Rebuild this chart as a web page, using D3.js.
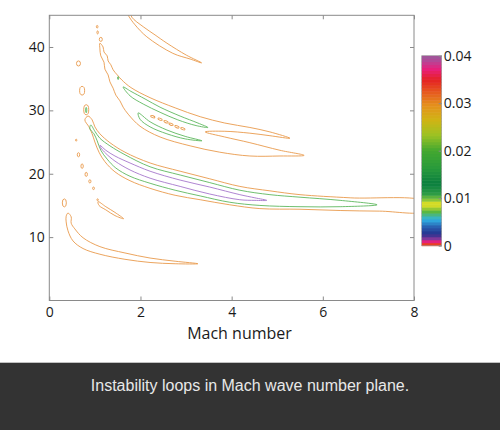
<!DOCTYPE html>
<html>
<head>
<meta charset="utf-8">
<script src="https://cdn.jsdelivr.net/npm/d3@7"></script>
<style>
body { margin: 0; background: #fff; }
svg { display: block; }
</style>
</head>
<body>
<svg id="drawing_region"></svg>
<script>
// tick labels
const machTicks = [0, 2, 4, 6, 8];
const waveTicks = [10, 20, 30, 40];
const cbarTicks = [0, 0.01, 0.02, 0.03, 0.04];

const cmapValues = [0, 0.0004, 0.001, 0.0016, 0.0025, 0.004, 0.0056, 0.0072, 0.0088, 0.0098, 0.011,
    0.0131, 0.0163, 0.0201, 0.0233, 0.0265, 0.0296, 0.0328, 0.0349, 0.0373, 0.0391, 0.04];
const cmapColors = ['#f08a2a', '#e82a20', '#e0208a', '#7a3a9a', '#24318e', '#2a5fb0', '#30b4e6', '#5ab840',
    '#f2e41e', '#7ec23c', '#2a9a44', '#0a7e3e', '#289a3c', '#44a830', '#9cc224', '#d0b414', '#e4901c',
    '#e6501e', '#e42222', '#e8207e', '#b04a98', '#9a5a9a'];

// contour loops, [Mach number, wave number]
const topLoop = [[1.77,45.6],[1.81,44.7],[2.06,43.2],[2.32,41.9],[2.58,40.6],[3.01,38.7],[3.34,37.5],
    [3.09,38.1],[2.71,39.0],[2.14,41.6],[1.88,43.5],[1.74,44.9],[1.70,45.6]];

const upperOuter = [[1.11,40.6],[1.18,40.0],[1.20,39.2],[1.27,38.6],[1.29,37.8],[1.35,37.2],[1.40,36.4],
    [1.49,35.6],[1.59,34.8],[1.79,33.6],[2.21,32.0],[2.76,30.4],[3.31,29.0],[3.85,28.0],[4.40,27.3],
    [4.84,26.6],[5.28,25.6],[4.84,26.0],[4.40,26.4],[3.85,26.7],[3.42,26.6],[3.85,25.8],[4.40,24.9],
    [5.06,23.7],[5.59,22.9],[5.06,22.8],[4.40,22.8],[3.74,23.4],[3.09,24.4],[2.43,25.8],[1.99,27.5],
    [1.73,29.4],[1.62,30.5],[1.55,31.5],[1.46,32.4],[1.40,33.5],[1.33,34.5],[1.29,35.6],[1.22,36.5],
    [1.20,37.6],[1.13,38.6],[1.11,39.7]];
const upperGreen1 = [[1.62,33.7],[1.79,33.0],[2.10,31.8],[2.43,30.5],[2.87,29.1],[3.26,28.0],[3.48,27.3],
    [3.22,27.6],[2.82,28.5],[2.43,29.7],[2.06,31.0],[1.77,32.3]];
const upperGreen2 = [[1.95,29.6],[2.21,28.2],[2.58,26.9],[2.98,25.9],[3.35,25.2],[2.98,25.5],[2.58,26.3],
    [2.21,27.4],[1.99,28.6]];

const midOuter = [[0.85,29.1],[0.94,28.5],[1.00,27.4],[1.11,26.3],[1.33,24.9],[1.66,23.4],[2.21,21.7],
    [2.87,20.4],[3.52,19.2],[4.18,18.0],[4.84,17.3],[5.50,16.7],[6.60,16.2],[8.24,15.6],[8.24,14.1],
    [7.25,14.1],[6.38,14.2],[5.50,14.4],[4.62,14.5],[3.96,15.1],[3.31,15.9],[2.76,16.6],[2.21,17.7],
    [1.77,18.9],[1.44,20.3],[1.22,21.9],[1.09,23.4],[1.00,25.0],[0.94,26.3],[0.87,27.4],[0.78,28.5]];
const midGreen = [[0.91,27.7],[1.00,26.7],[1.11,25.6],[1.33,24.4],[1.66,23.0],[2.21,21.1],[2.87,19.8],
    [3.52,18.6],[4.18,17.4],[4.84,16.7],[5.50,16.3],[6.38,15.8],[7.19,15.1],[6.38,14.8],[5.50,14.8],
    [4.62,15.0],[3.96,15.5],[3.31,16.5],[2.76,17.4],[2.21,18.5],[1.77,19.6],[1.46,20.9],[1.27,22.3],
    [1.13,23.7],[1.05,25.2],[0.98,26.3],[0.89,27.1]];
const midPurple = [[1.11,24.5],[1.24,23.7],[1.44,22.8],[1.77,21.7],[2.21,20.4],[2.87,19.0],[3.52,17.9],
    [4.18,16.7],[4.51,16.2],[4.77,15.8],[4.51,15.8],[4.18,15.9],[3.52,16.8],[2.87,18.0],[2.21,19.3],
    [1.77,20.6],[1.44,22.0],[1.24,23.2],[1.13,24.1]];

const slantLoop = [[1.07,15.6],[1.24,14.8],[1.44,13.9],[1.63,12.9],[1.44,13.4],[1.24,14.3],[1.09,15.0]];
const lowerLoop = [[0.41,13.8],[0.48,13.2],[0.48,12.2],[0.56,11.3],[0.74,9.9],[1.11,8.5],[1.66,7.5],
    [2.21,6.7],[2.76,6.2],[3.26,5.8],[2.76,5.8],[2.21,6.0],[1.66,6.5],[1.11,7.3],[0.74,8.2],[0.52,9.4],
    [0.41,11.0],[0.37,12.4],[0.37,13.3]];

// small closed contours: [Mach, wave number, half width (Mach), half height (wave number)]
const ovalsOrange = [[1.05,43.2,0.018,0.2],[1.06,42.3,0.016,0.24],[1.13,41.2,0.033,0.32],
    [0.64,37.4,0.044,0.4],[0.72,33.1,0.055,0.68],[0.81,30.1,0.055,0.79],[0.59,25.3,0.015,0.15],
    [0.64,23.0,0.026,0.32],[0.72,21.2,0.026,0.35],[0.81,19.9,0.026,0.32],[0.89,18.8,0.024,0.25],
    [0.97,17.7,0.02,0.2],[1.06,15.9,0.015,0.15],[0.33,15.4,0.044,0.63]];
const ovalsGreen = [[0.81,30.05,0.013,0.42],[1.51,35.1,0.012,0.25]];
const islands = [[2.27,29.0,0.05,0.16],[2.43,28.6,0.05,0.16],[2.56,28.2,0.05,0.16],
    [2.67,27.8,0.05,0.16],[2.80,27.4,0.05,0.16],[2.93,27.1,0.05,0.16]];


class ContourPlot {

    constructor( config ) {
        this.config = config;
        this.init();
    }

    init() {
        let self = this;
        let c = self.config;

        self.svg = d3.select( c.parent )
            .attr('width', c.width)
            .attr('height', c.height);

        self.inner_width = c.plotRight - c.margin.left;
        self.inner_height = c.plotBottom - c.margin.top;

        self.chart = self.svg.append('g')
            .attr('transform', `translate(${c.margin.left}, ${c.margin.top})`);

        self.xscale = d3.scaleLinear()
            .domain([0, 8])
            .range([0, self.inner_width]);
        self.yscale = d3.scaleLinear()
            .domain([0, 45])
            .range([self.inner_height, 0]);

        self.svg.append('clipPath').attr('id', 'plotclip')
            .append('rect')
            .attr('width', self.inner_width)
            .attr('height', self.inner_height);

        self.marks = self.chart.append('g').attr('clip-path', 'url(#plotclip)');
    }

    render() {
        let self = this;
        let c = self.config;
        const x = self.xscale, y = self.yscale;

        const line = d3.line()
            .x(d => x(d[0]))
            .y(d => y(d[1]))
            .curve(d3.curveCatmullRomClosed.alpha(0.5));

        const loops = [
            { pts: topLoop, col: c.orange },
            { pts: upperOuter, col: c.orange },
            { pts: upperGreen1, col: c.green },
            { pts: upperGreen2, col: c.green },
            { pts: midOuter, col: c.orange },
            { pts: midGreen, col: c.green },
            { pts: midPurple, col: c.purple },
            { pts: slantLoop, col: c.orange },
            { pts: lowerLoop, col: c.orange }
        ];

        self.marks.selectAll('path.loop')
            .data(loops)
            .join('path')
            .attr('class', 'loop')
            .attr('d', d => line(d.pts))
            .attr('fill', 'none')
            .attr('stroke', d => d.col)
            .attr('stroke-width', 0.9);

        const ovals = ovalsOrange.map(d => ({ d: d, col: c.orange, rot: 0 }))
            .concat(ovalsGreen.map(d => ({ d: d, col: c.green, rot: 0 })))
            .concat(islands.map(d => ({ d: d, col: c.orange, rot: 22 })));

        self.marks.selectAll('ellipse')
            .data(ovals)
            .join('ellipse')
            .attr('cx', o => x(o.d[0]))
            .attr('cy', o => y(o.d[1]))
            .attr('rx', o => x(o.d[0] + o.d[2]) - x(o.d[0]))
            .attr('ry', o => y(o.d[1] - o.d[3]) - y(o.d[1]))
            .attr('transform', o => `rotate(${o.rot}, ${x(o.d[0])}, ${y(o.d[1])})`)
            .attr('fill', 'none')
            .attr('stroke', o => o.col)
            .attr('stroke-width', 0.9);

        // frame
        self.chart.append('rect')
            .attr('width', self.inner_width)
            .attr('height', self.inner_height)
            .attr('fill', 'none')
            .attr('stroke', '#8a8a8a')
            .attr('stroke-width', 1);

        const styleAxis = g => {
            g.select('.domain').remove();
            g.selectAll('line').attr('stroke', '#8a8a8a');
            g.selectAll('text')
                .attr('fill', '#1a1a1a')
                .style('font-family', '"Open Sans", sans-serif')
                .style('font-size', '14px');
        };

        self.chart.append('g')
            .attr('transform', `translate(0, ${self.inner_height})`)
            .call(d3.axisBottom(x).tickValues(machTicks).tickSize(-4).tickPadding(7))
            .call(styleAxis);
        self.chart.append('g')
            .call(d3.axisTop(x).tickValues(machTicks).tickSize(-4).tickFormat(''))
            .call(styleAxis);
        self.chart.append('g')
            .call(d3.axisLeft(y).tickValues(waveTicks).tickSize(-4).tickPadding(4.5))
            .call(styleAxis);
        self.chart.append('g')
            .attr('transform', `translate(${self.inner_width}, 0)`)
            .call(d3.axisRight(y).tickValues(waveTicks).tickSize(-4).tickFormat(''))
            .call(styleAxis);

        self.svg.append('text')
            .attr('x', 239.5)
            .attr('y', 339)
            .attr('text-anchor', 'middle')
            .attr('fill', '#1a1a1a')
            .style('font-family', '"Open Sans", sans-serif')
            .style('font-size', '16px')
            .text('Mach number');

        // colour bar
        const cb = c.cbar;
        const cscale = d3.scaleLinear().domain([0, 0.04]).range([cb.h, 0]);
        const cmap = d3.scaleLinear().domain(cmapValues).range(cmapColors);
        const bands = d3.range(64);
        const step = 0.04 / bands.length;
        const cbg = self.svg.append('g')
            .attr('transform', `translate(${cb.x}, ${cb.y})`);
        cbg.selectAll('rect.band')
            .data(bands)
            .join('rect')
            .attr('class', 'band')
            .attr('x', 0)
            .attr('width', cb.w)
            .attr('y', i => cscale((i + 1) * step))
            .attr('height', i => cscale(i * step) - cscale((i + 1) * step) + 0.5)
            .attr('fill', i => cmap((i + 0.5) * step));
        cbg.append('rect')
            .attr('width', cb.w)
            .attr('height', cb.h)
            .attr('fill', 'none')
            .attr('stroke', '#9a9a9a')
            .attr('stroke-width', 0.6);
        cbg.append('g')
            .attr('transform', `translate(${cb.w}, 0)`)
            .call(d3.axisRight(cscale).tickValues(cbarTicks).tickSize(-3).tickPadding(2)
                .tickFormat(d => d === 0 ? '0' : d.toFixed(2)))
            .call(styleAxis);

        // caption band
        self.svg.append('rect')
            .attr('x', 0)
            .attr('y', c.captionTop)
            .attr('width', c.width)
            .attr('height', c.height - c.captionTop)
            .attr('fill', '#333333');
        self.svg.append('text')
            .attr('x', c.width / 2)
            .attr('y', 391)
            .attr('text-anchor', 'middle')
            .attr('fill', '#e8e8e8')
            .style('font-family', '"Liberation Sans", Arial, sans-serif')
            .style('font-size', '16px')
            .text('Instability loops in Mach wave number plane.');
    }
}

const plot = new ContourPlot({
    parent: '#drawing_region',
    width: 500,
    height: 430,
    margin: { top: 15.3, left: 49.3 },
    plotRight: 414,
    plotBottom: 300.5,
    cbar: { x: 421.7, y: 55.7, w: 20, h: 190 },
    captionTop: 362.7,
    orange: '#e99a4c',
    green: '#5fb85f',
    purple: '#a677cc'
});
plot.render();
</script>
</body>
</html>
